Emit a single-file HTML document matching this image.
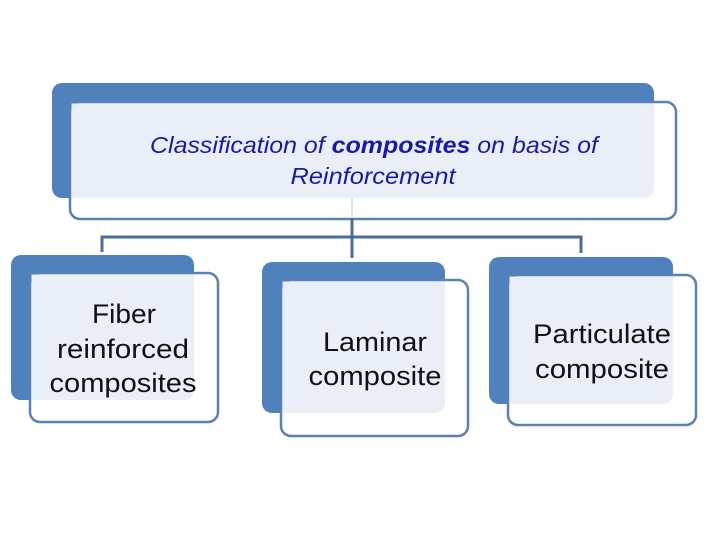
<!DOCTYPE html>
<html><head><meta charset="utf-8"><style>html,body{margin:0;padding:0;background:#fff}svg{display:block}</style></head>
<body>
<svg width="720" height="540" viewBox="0 0 720 540" xmlns="http://www.w3.org/2000/svg">
<g fill="#4f81bd">
<rect x="52" y="83" width="602" height="115" rx="10"/>
<rect x="11" y="255" width="183" height="145" rx="10"/>
<rect x="262" y="262" width="183" height="151" rx="10"/>
<rect x="489" y="257" width="184" height="147" rx="10"/>
</g>
<g fill="#fff" stroke="#5b80b3" stroke-width="2.5">
<rect x="70" y="102" width="606" height="117" rx="10"/>
<rect x="30" y="273" width="188" height="149" rx="10"/>
<rect x="281" y="280" width="187" height="156" rx="10"/>
<rect x="508" y="275" width="188" height="150" rx="10"/>
</g>
<g fill="#e9eef7">
<path d="M71.5 103.5 H654 V188 a10 10 0 0 1 -10 10 H71.5 Z"/>
<path d="M31.5 274.5 H194 V390 a10 10 0 0 1 -10 10 H31.5 Z"/>
<path d="M282.5 281.5 H445 V403 a10 10 0 0 1 -10 10 H282.5 Z"/>
<path d="M509.5 276.5 H673 V394 a10 10 0 0 1 -10 10 H509.5 Z"/>
</g>
<line x1="352" y1="198" x2="352" y2="236" stroke="#dfe6f0" stroke-width="2"/>
<g fill="none" stroke="#4a6e9c" stroke-width="3">
<path d="M102 252 V237 H581 V253"/>
<path d="M352 218 V258"/>
</g>
<g font-family="Liberation Sans, sans-serif" font-style="italic" font-size="23" fill="#1a1aa6" text-anchor="middle" lengthAdjust="spacingAndGlyphs">
<text x="374" y="153" textLength="448" lengthAdjust="spacingAndGlyphs">Classification  of <tspan font-weight="bold">composites</tspan> on basis of</text>
<text x="373" y="184" textLength="165" lengthAdjust="spacingAndGlyphs">Reinforcement</text>
</g>
<g font-family="Liberation Sans, sans-serif" font-size="27" fill="#111" text-anchor="middle">
<text x="124" y="323" textLength="64" lengthAdjust="spacingAndGlyphs">Fiber</text>
<text x="123" y="358" textLength="132" lengthAdjust="spacingAndGlyphs">reinforced</text>
<text x="123" y="392" textLength="147" lengthAdjust="spacingAndGlyphs">composites</text>
<text x="375" y="351" textLength="104" lengthAdjust="spacingAndGlyphs">Laminar</text>
<text x="375" y="385" textLength="133" lengthAdjust="spacingAndGlyphs">composite</text>
<text x="602" y="343" textLength="138" lengthAdjust="spacingAndGlyphs">Particulate</text>
<text x="602" y="378" textLength="134" lengthAdjust="spacingAndGlyphs">composite</text>
</g>
</svg>
</body></html>
